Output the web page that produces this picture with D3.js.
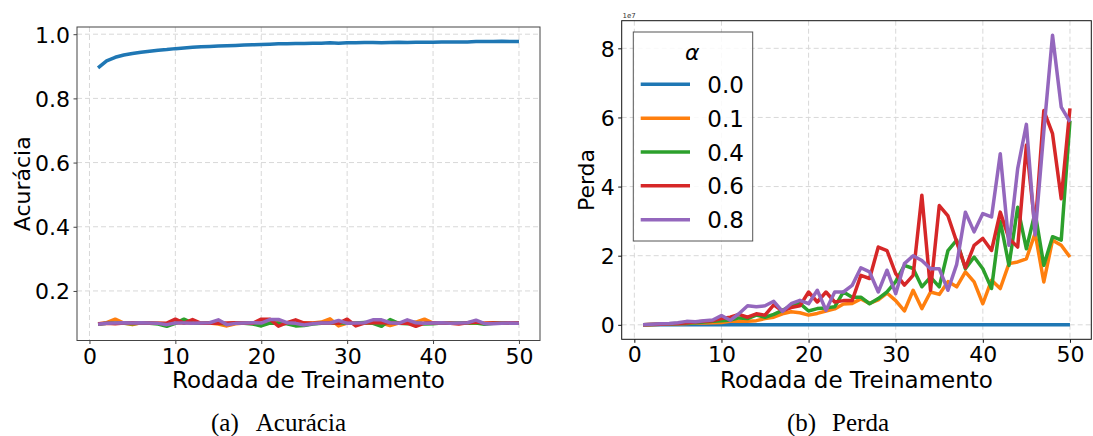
<!DOCTYPE html>
<html><head><meta charset="utf-8">
<script src="https://cdn.jsdelivr.net/npm/d3@7"></script>
<style>body{margin:0;background:#fff}svg{display:block}</style>
</head><body>
<svg id="c" width="1093" height="436"></svg>
<script>
const rounds = d3.range(1, 51);
const alphas = ["0.0", "0.1", "0.4", "0.6", "0.8"];
const colors = ["#1f77b4", "#ff7f0e", "#2ca02c", "#d62728", "#9467bd"];
const xTicks = [0, 10, 20, 30, 40, 50];
const accTicks = [0.2, 0.4, 0.6, 0.8, 1.0];
const lossTicks = [0, 2, 4, 6, 8];

// Accuracy per round
const acc00 = [0.895,0.917,0.928,0.935,0.940,0.944,0.947,0.950,0.952,0.955,0.957,0.959,0.961,0.962,0.963,0.964,0.965,0.966,0.967,0.968,0.969,0.970,0.970,0.971,0.971,0.972,0.972,0.973,0.972,0.973,0.973,0.974,0.974,0.973,0.974,0.975,0.974,0.975,0.975,0.975,0.976,0.976,0.976,0.976,0.977,0.977,0.977,0.978,0.977,0.977];
const acc01 = [0.097,0.101,0.112,0.100,0.095,0.101,0.100,0.099,0.098,0.100,0.101,0.099,0.100,0.100,0.097,0.091,0.098,0.100,0.101,0.099,0.100,0.101,0.099,0.100,0.101,0.100,0.103,0.113,0.091,0.100,0.101,0.099,0.101,0.100,0.092,0.100,0.101,0.103,0.112,0.100,0.099,0.101,0.100,0.099,0.100,0.099,0.101,0.100,0.099,0.100];
const acc04 = [0.096,0.099,0.100,0.099,0.098,0.100,0.099,0.097,0.090,0.099,0.112,0.100,0.099,0.100,0.099,0.098,0.100,0.099,0.097,0.091,0.100,0.099,0.098,0.091,0.092,0.097,0.099,0.100,0.101,0.099,0.100,0.102,0.099,0.090,0.111,0.099,0.098,0.100,0.097,0.098,0.100,0.099,0.100,0.101,0.100,0.096,0.099,0.100,0.101,0.100];
const acc06 = [0.098,0.099,0.098,0.100,0.101,0.100,0.100,0.099,0.100,0.112,0.100,0.111,0.099,0.100,0.099,0.100,0.101,0.100,0.099,0.112,0.112,0.090,0.101,0.110,0.100,0.099,0.100,0.101,0.099,0.112,0.091,0.100,0.102,0.101,0.100,0.099,0.100,0.090,0.100,0.101,0.100,0.099,0.097,0.101,0.103,0.099,0.100,0.099,0.101,0.100];
const acc08 = [0.096,0.099,0.100,0.101,0.100,0.101,0.100,0.099,0.095,0.100,0.100,0.099,0.100,0.101,0.110,0.095,0.099,0.100,0.101,0.100,0.111,0.111,0.101,0.099,0.094,0.098,0.100,0.100,0.108,0.099,0.100,0.101,0.110,0.110,0.101,0.099,0.110,0.101,0.099,0.100,0.101,0.099,0.100,0.101,0.109,0.098,0.098,0.099,0.100,0.099];

// Loss per round (units of 1e7)
const loss00 = [0,0,0,0,0,0,0,0,0,0,0,0,0,0,0,0,0,0,0,0,0,0,0,0,0,0,0,0,0,0,0,0,0,0,0,0,0,0,0,0,0,0,0,0,0,0,0,0,0,0];
const loss01 = [0,0.01,0.02,0.03,0.03,0.04,0.05,0.05,0.06,0.07,0.1,0.1,0.1,0.12,0.18,0.22,0.32,0.38,0.35,0.28,0.33,0.4,0.46,0.6,0.62,0.75,0.62,0.72,0.92,0.7,0.4,1.0,0.47,0.95,0.88,1.25,1.1,1.53,1.24,0.61,1.29,1.05,1.77,1.82,1.91,2.65,1.24,2.45,2.3,1.96];
const loss04 = [0,0.01,0.02,0.03,0.04,0.05,0.06,0.08,0.1,0.12,0.14,0.2,0.18,0.28,0.22,0.3,0.42,0.55,0.62,0.4,0.47,0.49,0.52,0.95,0.8,0.8,0.61,0.76,0.95,1.25,1.72,1.63,1.1,1.38,1.1,2.15,2.45,1.62,1.96,1.62,1.05,3.0,1.72,3.4,2.2,3.25,1.72,2.55,2.45,5.9];
const loss06 = [0,0.01,0.02,0.03,0.04,0.06,0.08,0.1,0.12,0.18,0.22,0.3,0.22,0.32,0.28,0.58,0.4,0.5,0.55,0.95,0.66,0.95,0.66,0.7,0.7,1.43,1.34,2.25,2.15,1.48,1.15,1.43,3.75,1.0,3.45,3.15,2.4,1.65,2.3,2.5,2.15,3.26,2.5,2.25,5.2,2.8,6.2,5.53,3.65,6.26];
const loss08 = [0,0.02,0.03,0.04,0.06,0.1,0.09,0.12,0.14,0.27,0.13,0.32,0.55,0.52,0.55,0.68,0.39,0.61,0.71,0.61,1.0,0.42,0.95,0.95,1.14,1.65,1.53,0.95,1.58,0.9,1.77,2.0,1.86,1.62,1.62,1.0,1.75,3.26,2.69,3.22,3.12,4.95,2.3,4.52,5.8,2.6,5.6,8.38,6.3,5.87];

const accSeries = [acc00, acc01, acc04, acc06, acc08];
const lossSeries = [loss00, loss01, loss04, loss06, loss08];

const svg = d3.select("#c");
svg.append("rect").attr("width", 1093).attr("height", 436).attr("fill", "#fff");
const FONT = "DejaVu Sans, sans-serif";

function pad(ext) { const r = ext[1] - ext[0]; return [ext[0] - 0.05 * r, ext[1] + 0.05 * r]; }

function panel(o) {
  const g = svg.append("g");
  const x = d3.scaleLinear().domain(pad([1, 50])).range([o.left, o.right]);
  const all = o.series.flat();
  const y = d3.scaleLinear().domain(pad(d3.extent(all))).range([o.bottom, o.top]);
  // grid
  g.selectAll(".gx").data(xTicks).join("line")
    .attr("x1", d => x(d)).attr("x2", d => x(d)).attr("y1", o.top).attr("y2", o.bottom)
    .attr("stroke", "#d8d8d8").attr("stroke-width", 1).attr("stroke-dasharray", "5,3");
  g.selectAll(".gy").data(o.yTicks).join("line")
    .attr("y1", d => y(d)).attr("y2", d => y(d)).attr("x1", o.left).attr("x2", o.right)
    .attr("stroke", "#d8d8d8").attr("stroke-width", 1).attr("stroke-dasharray", "5,3");
  // lines
  const line = d3.line().x((d, i) => x(rounds[i])).y(d => y(d));
  o.series.forEach((s, k) => {
    g.append("path").attr("d", line(s)).attr("fill", "none")
      .attr("stroke", colors[k]).attr("stroke-width", 3.5)
      .attr("stroke-linejoin", "round").attr("stroke-linecap", "butt");
  });
  // axes
  const ax = d3.axisBottom(x).tickValues(xTicks).tickSize(3.5).tickPadding(4).tickFormat(d3.format("d"));
  const gx = g.append("g").attr("transform", `translate(0,${o.bottom})`).call(ax);
  const ay = d3.axisLeft(y).tickValues(o.yTicks).tickSize(3.5).tickPadding(3.5).tickFormat(o.fmt);
  const gy = g.append("g").attr("transform", `translate(${o.left},0)`).call(ay);
  [gx, gy].forEach(a => {
    a.select(".domain").remove();
    a.selectAll(".tick line").attr("stroke", o.spine).attr("stroke-width", 1);
    a.selectAll(".tick text").attr("font-family", FONT).attr("font-size", 22).attr("fill", "#000");
  });
  gx.selectAll(".tick text").attr("dy", "0.71em");
  gy.selectAll(".tick text").attr("dy", "0.36em");
  g.append("rect").attr("x", o.left).attr("y", o.top).attr("width", o.right - o.left)
    .attr("height", o.bottom - o.top).attr("fill", "none").attr("stroke", o.spine).attr("stroke-width", 1);
  // labels
  g.append("text").attr("x", (o.left + o.right) / 2).attr("y", 388)
    .attr("text-anchor", "middle").attr("font-family", FONT).attr("font-size", 23)
    .text("Rodada de Treinamento");
  g.append("text").attr("transform", `translate(${o.ylabX},${(o.top + o.bottom) / 2}) rotate(-90)`)
    .attr("text-anchor", "middle").attr("font-family", FONT).attr("font-size", 22)
    .text(o.ylabel);
  // caption
  g.append("text").attr("x", o.capX).attr("y", 431).attr("font-family", "Liberation Serif, Times New Roman, serif")
    .attr("font-size", 25).text(o.capA);
  g.append("text").attr("x", o.capX2).attr("y", 431).attr("text-anchor", "end")
    .attr("font-family", "Liberation Serif, Times New Roman, serif")
    .attr("font-size", 25).text(o.capB);
  return { g, x, y };
}

panel({ left: 77, right: 540, top: 27, bottom: 340.5, series: accSeries, yTicks: accTicks,
  fmt: d3.format(".1f"), spine: "#444", ylabel: "Acurácia", ylabX: 30,
  capX: 211, capX2: 346, capA: "(a)", capB: "Acurácia" });

const R = panel({ left: 621.7, right: 1091.3, top: 20.7, bottom: 339.3, series: lossSeries, yTicks: lossTicks,
  fmt: d3.format("d"), spine: "#111", ylabel: "Perda", ylabX: 594,
  capX: 787, capX2: 889, capA: "(b)", capB: "Perda" });

R.g.append("text").attr("x", 622.5).attr("y", 17.5).attr("font-family", FONT)
  .attr("font-size", 7).attr("fill", "#333").text("1e7");

// legend
const lg = R.g.append("g");
lg.append("rect").attr("x", 633.3).attr("y", 32).attr("width", 119.4).attr("height", 209)
  .attr("fill", "#fff").attr("fill-opacity", 0.85).attr("stroke", "#555").attr("stroke-width", 1);
lg.append("text").attr("x", 692.3).attr("y", 59.5).attr("text-anchor", "middle")
  .attr("font-family", FONT).attr("font-style", "italic").attr("font-size", 22).text("α");
alphas.forEach((a, i) => {
  const cy = 84.3 + i * 33.85;
  lg.append("line").attr("x1", 640.7).attr("x2", 690).attr("y1", cy).attr("y2", cy)
    .attr("stroke", colors[i]).attr("stroke-width", 3.5);
  lg.append("text").attr("x", 707.3).attr("y", cy + 8.5).attr("font-family", FONT)
    .attr("font-size", 23).text(a);
});
</script>
</body></html>
